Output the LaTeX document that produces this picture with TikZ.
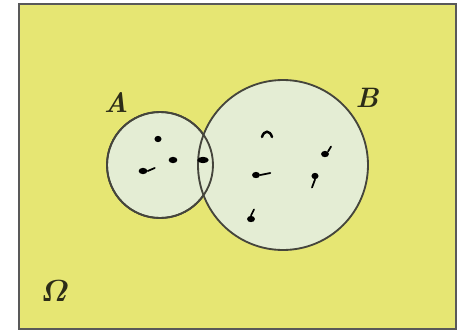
\documentclass[tikz,border=0pt]{standalone}
\usepackage{tikz}
\usepackage{amsmath,bm}
\usepackage{xcolor}
\usetikzlibrary{shapes.geometric}

\definecolor{omegafill}{HTML}{E6E673}
\definecolor{setfill}{HTML}{E4EDD4}
\definecolor{setline}{HTML}{45453C}
\definecolor{labtext}{HTML}{2C2C18}

\begin{document}
\begin{tikzpicture}[x=0.02cm, y=-0.02cm,
    frame/.style={draw=gray!70!black, fill=omegafill, line width=1.2pt},
    setc/.style={circle, draw=setline, fill=setfill, line width=1.05pt,
                 minimum size=#1, inner sep=0pt},
    lab/.style={text=labtext, font=\fontsize{16}{19}\selectfont\bfseries\itshape},
    pt/.style={ellipse, fill=black, inner sep=0pt,
               minimum width=#1, minimum height=3.6pt},
    tail/.style={line width=1pt, line cap=round}]

  \useasboundingbox (0,0) rectangle (458,332);

  %% Sample space
  \node[frame, rectangle, minimum width=437*0.02cm, minimum height=325*0.02cm,
        inner sep=0pt] (om) at (237.5,166.5) {};

  %% Events A and B
  \node[setc=106*0.02cm] (A) at (160,165) {};
  \node[setc=170*0.02cm] (B) at (283,165) {};
  \draw[setline, line width=1.05pt] (A.center) circle (53);

  %% Labels
  \node[lab] (la) at (116,103) {A};
  \node[lab] (lb) at (367,98)  {B};
  \node[lab] (lo) at (55,291)  {$\bm{\varOmega}$};

  %% Outcomes in A
  \node[pt=4pt]   (p1) at (158,139) {};
  \node[pt=5pt]   (p2) at (173,160) {};
  \node[pt=5pt]   (p3) at (143,171) {};
  \draw[tail] (p3.east) -- ++(7,-3);

  %% Outcome in A and B
  \node[pt=6.5pt] (p4) at (203,160) {};

  %% Outcomes in B
  \draw[line width=1.4pt, line cap=round] (262,137) .. controls (264,130) and (270,130) .. (272,137);
  \node[coordinate] (p5) at (267,133) {};
  \node[pt=4.5pt] (p6) at (325,154) {};
  \draw[tail] (p6.north east) -- ++(3,-5);
  \node[pt=4.5pt] (p7) at (256,175) {};
  \draw[tail] (p7.east) -- ++(10,-2);
  \node[pt=4pt]   (p8) at (315,176) {};
  \draw[tail] (p8.south) -- ++(-3,8);
  \node[pt=4.5pt] (p9) at (251,219) {};
  \draw[tail] (p9.north) -- ++(3,-6);
\end{tikzpicture}
\end{document}
